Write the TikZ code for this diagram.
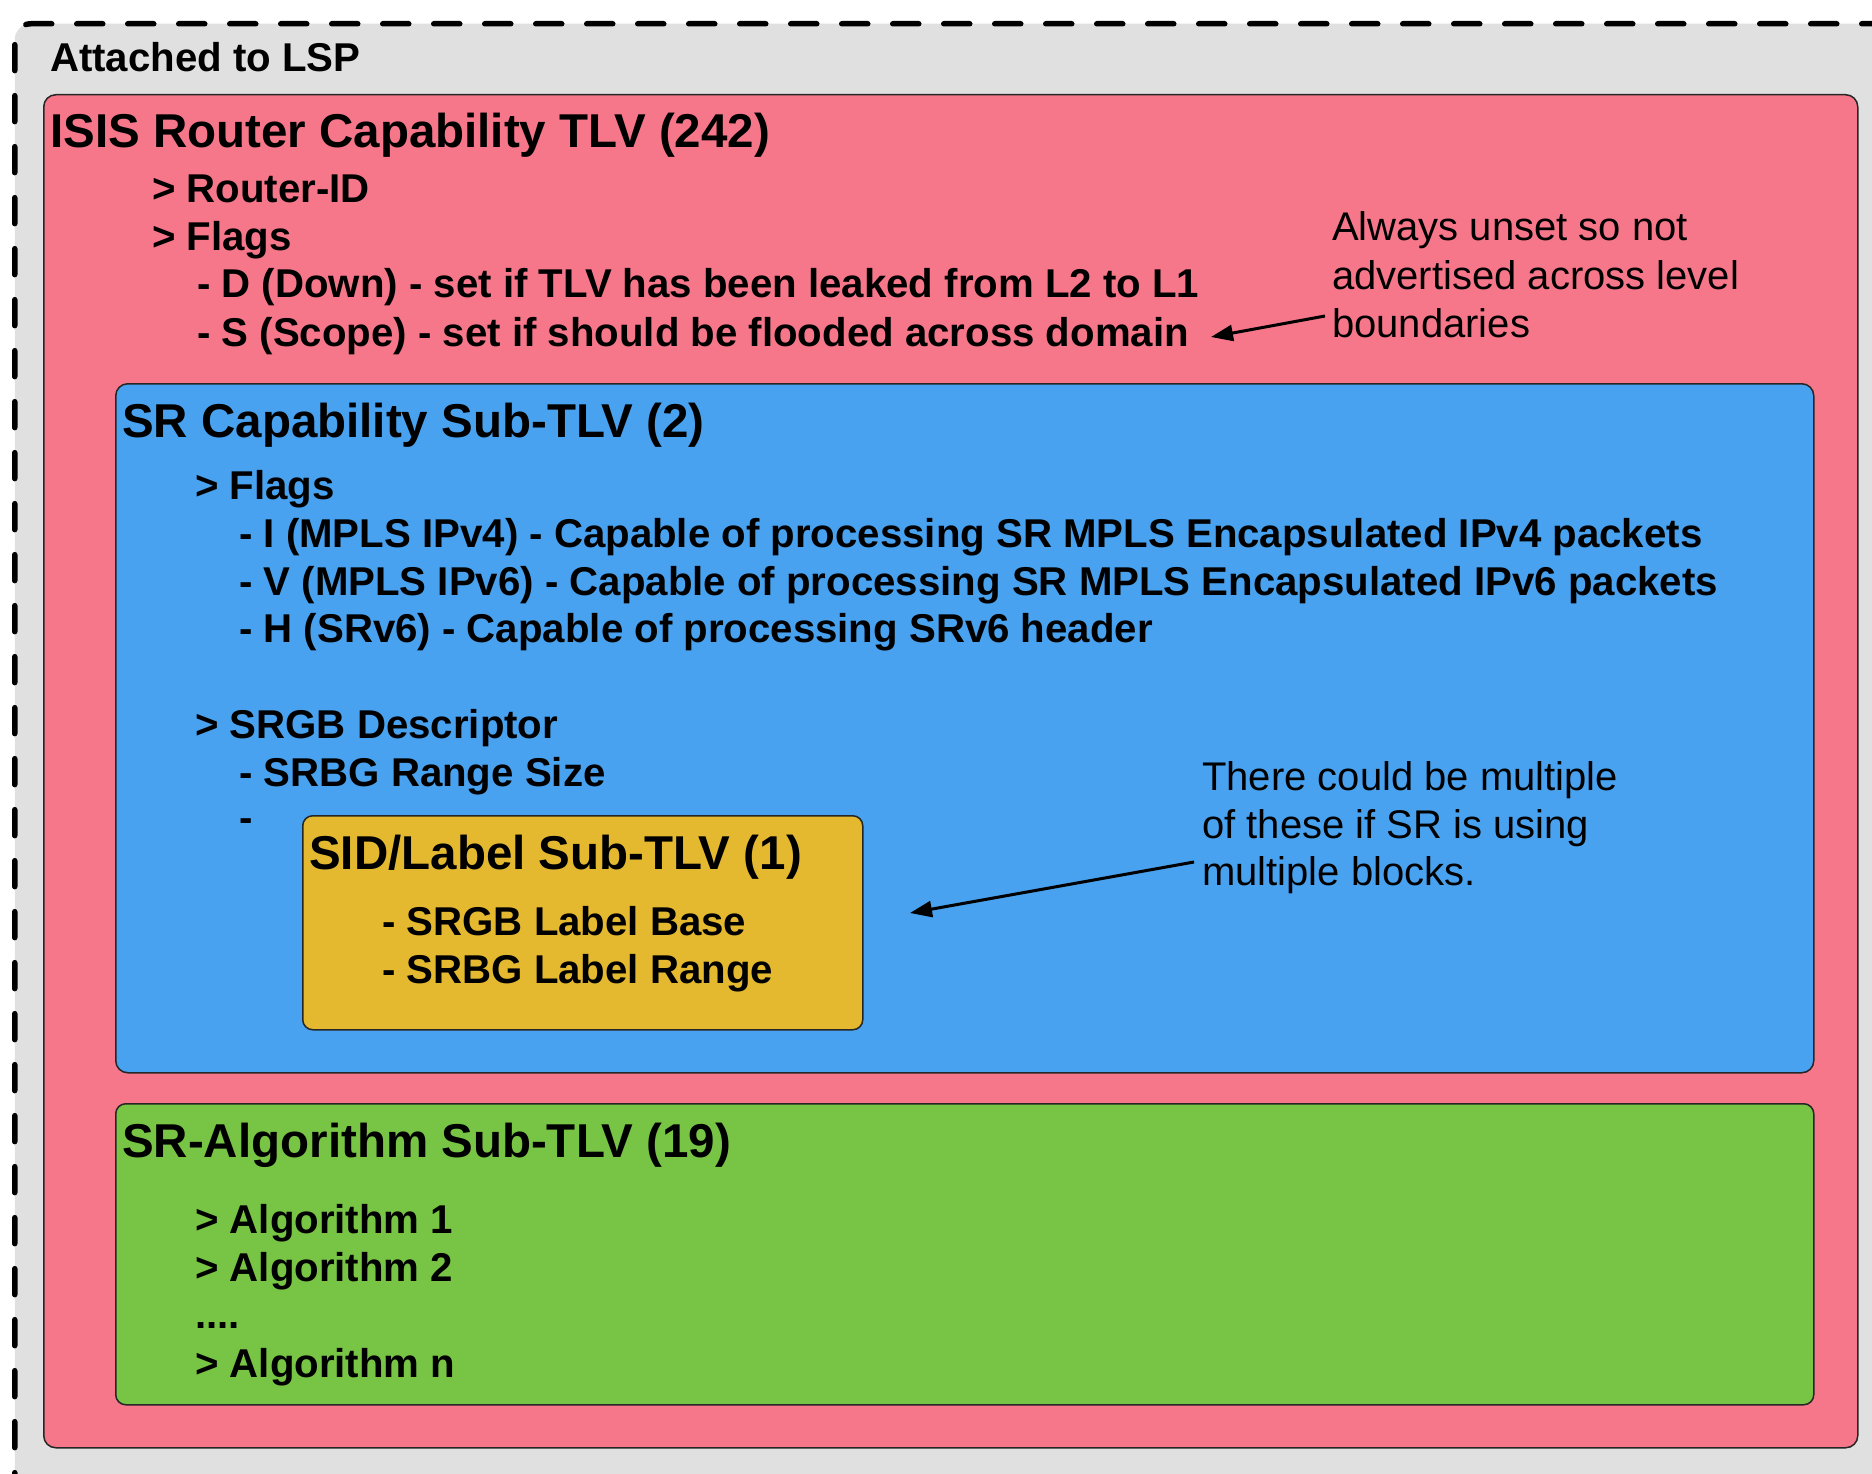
\documentclass[tikz,border=0pt]{standalone}
\usepackage{fontspec}
\setmainfont{Liberation Sans}
\usetikzlibrary{arrows.meta}
\definecolor{lspgray}{HTML}{E0E0E0}
\definecolor{isispink}{HTML}{F6778A}
\definecolor{srblue}{HTML}{48A2EF}
\definecolor{sidyellow}{HTML}{E4B930}
\definecolor{algogreen}{HTML}{78C445}
\newcommand\bodyfnt{\fontsize{40.2}{48}\selectfont\bfseries}
\newcommand\titlefnt{\fontsize{47.5}{56}\selectfont\bfseries}
\newcommand\notefnt{\fontsize{40}{48}\selectfont}
\begin{document}
\begin{tikzpicture}[x=1pt,y=-1pt,
  panel/.style={draw=black!85, line width=1.5pt, rounded corners=12pt, anchor=north west, inner sep=0pt},
  lspbox/.style={fill=lspgray, draw=black, line width=5.5pt, line cap=round, dash pattern=on 26pt off 25pt, rounded corners=16pt, anchor=north west, inner sep=0pt},
  body/.style={anchor=base west, inner sep=0pt, font=\bodyfnt},
  ttl/.style={anchor=base west, inner sep=0pt, font=\titlefnt},
  note/.style={anchor=base west, inner sep=0pt, font=\notefnt},
  arr/.style={line width=3pt, -{Triangle[length=22pt,width=16pt]}}
]
\useasboundingbox (0,0) rectangle (1872,1474);
\clip (0,0) rectangle (1872,1474);
% outer LSP container (extends beyond the picture at right and bottom)
\node[lspbox, minimum width=1940pt, minimum height=1540pt] (lsp) at (12,21) {};
\node[body] (attached) at (50,72) {Attached to LSP};

% ISIS Router Capability TLV
\node[panel, fill=isispink, minimum width=1814pt, minimum height=1353pt] (isis) at (43,94) {};
\node[ttl] (isist) at (50,148) {ISIS Router Capability TLV (242)};
\node[body] (rid) at (152,203) {> Router-ID};
\node[body] (flags1) at (152,251) {> Flags};
\node[body] (dline) at (197,298) {- D (Down) - set if TLV has been leaked from L2 to L1};
\node[body] (sline) at (197,346) {- S (Scope) - set if should be flooded across domain};
\node[note] (na1) at (1332,241) {Always unset so not};
\node[note] (na2) at (1332,289) {advertised across level};
\node[note] (na3) at (1332,337) {boundaries};
\coordinate (tipA) at (1211,337);
\draw[arr] ([xshift=-7pt,yshift=21pt]na3.base west) -- (tipA);

% SR Capability Sub-TLV
\node[panel, fill=srblue, minimum width=1698pt, minimum height=689pt] (srcap) at (115,383) {};
\node[ttl] (srcapt) at (122,437) {SR Capability Sub-TLV (2)};
\node[body] (flags2) at (195,499) {> Flags};
\node[body] (iline) at (239,547) {- I (MPLS IPv4) - Capable of processing SR MPLS Encapsulated IPv4 packets};
\node[body] (vline) at (239,595) {- V (MPLS IPv6) - Capable of processing SR MPLS Encapsulated IPv6 packets};
\node[body] (hline) at (239,642) {- H (SRv6) - Capable of processing SRv6 header};
\node[body] (srgb) at (195,738) {> SRGB Descriptor};
\node[body] (range) at (239,786) {- SRBG Range Size};
\node[body] (dash) at (239,831) {-};

% SID/Label Sub-TLV
\node[panel, fill=sidyellow, rounded corners=10pt, minimum width=560pt, minimum height=214pt] (sid) at (302,815) {};
\node[ttl] (sidt) at (309,869) {SID/Label Sub-TLV (1)};
\node[body] (base) at (382,935) {- SRGB Label Base};
\node[body] (lrange) at (382,983) {- SRBG Label Range};
\node[note] (nb1) at (1202,790) {There could be multiple};
\node[note] (nb2) at (1202,838) {of these if SR is using};
\node[note] (nb3) at (1202,885) {multiple blocks.};
\coordinate (tipB) at (910,913);
\draw[arr] ([xshift=-8pt,yshift=23pt]nb3.base west) -- (tipB);

% SR-Algorithm Sub-TLV
\node[panel, fill=algogreen, rounded corners=10pt, minimum width=1698pt, minimum height=301pt] (algo) at (115,1103) {};
\node[ttl] (algot) at (122,1157) {SR-Algorithm Sub-TLV (19)};
\node[body] (a1) at (195,1233) {> Algorithm 1};
\node[body] (a2) at (195,1281) {> Algorithm 2};
\node[body] (adots) at (195,1328) {....};
\node[body] (an) at (195,1377) {> Algorithm n};
\end{tikzpicture}
\end{document}
